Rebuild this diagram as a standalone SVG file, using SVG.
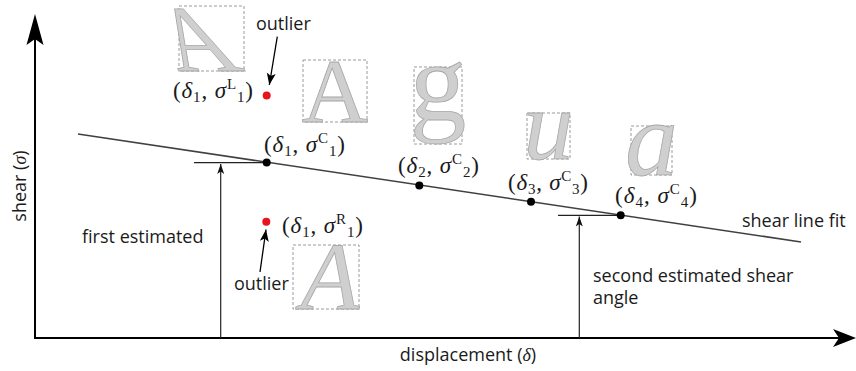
<svg xmlns="http://www.w3.org/2000/svg" width="856" height="371" viewBox="0 0 856 371">
<style>
.sans{font-family:"Open Sans","Liberation Sans",sans-serif;font-size:18px;fill:#1a1a1a}
.math{font-family:"Liberation Serif","DejaVu Serif",serif;font-size:23px;fill:#1a1a1a}
.i{font-style:italic}
.s{font-size:15px}
.glyph{font-family:"Liberation Serif","DejaVu Serif",serif;fill:#cfcfcf;stroke:#a8a8a8;stroke-width:0.8}
.box{fill:none;stroke:#9a9a9a;stroke-width:1;stroke-dasharray:3 2}
.axis{stroke:#000;stroke-width:2;fill:none}
.thin{stroke:#222;stroke-width:1.2;fill:none}
.fit{stroke:#404040;stroke-width:1.6;fill:none}
</style>
<defs>
<marker id="small" viewBox="0 0 10 10" refX="10" refY="5" markerWidth="10" markerHeight="10" markerUnits="userSpaceOnUse" orient="auto">
<path d="M10,5 L0,1.5 L2.5,5 L0,8.5 Z" fill="#111"/>
</marker>
<marker id="out" viewBox="0 0 12 10" refX="12" refY="5" markerWidth="12" markerHeight="10" markerUnits="userSpaceOnUse" orient="auto">
<path d="M12,5 L0,0.5 L3,5 L0,9.5 Z" fill="#000"/>
</marker>
</defs>

<g id="axes">
<line class="axis" x1="35" y1="338" x2="35" y2="38"/>
<path d="M35,14 L43.5,45 L35,39 L26.5,45 Z" fill="#000"/>
<line class="axis" x1="34" y1="338" x2="840" y2="338"/>
<path d="M856,338 L833,329 L839,338 L833,347 Z" fill="#000"/>
<text class="sans" transform="translate(26,186) rotate(-90)" text-anchor="middle">shear (<tspan font-family="Liberation Serif,serif" font-style="italic">σ</tspan>)</text>
<text class="sans" x="468" y="361" text-anchor="middle">displacement (<tspan font-family="Liberation Serif,serif" font-style="italic">δ</tspan>)</text>
</g>

<g id="connectors">
<line class="fit" x1="78" y1="134" x2="801" y2="242"/>
<line class="thin" x1="194" y1="162.7" x2="267" y2="162.7"/>
<line class="thin" x1="220.7" y1="338" x2="220.7" y2="164" marker-end="url(#small)"/>
<line class="thin" x1="558" y1="215.3" x2="621" y2="215.3"/>
<line class="thin" x1="579.3" y1="338" x2="579.3" y2="216.5" marker-end="url(#small)"/>
<line stroke="#000" stroke-width="1.3" x1="277.3" y1="36.7" x2="269.3" y2="85" marker-end="url(#out)"/>
<line stroke="#000" stroke-width="1.3" x1="260" y1="272" x2="266" y2="229.5" marker-end="url(#out)"/>
</g>

<g id="glyph-A-left">
<rect class="box" x="179" y="6" width="65" height="65"/>
<text class="glyph" font-size="94" text-anchor="middle" transform="translate(212,71) skewX(27.5)">A</text>
</g>
<g id="glyph-A">
<rect class="box" x="303" y="60" width="64" height="62"/>
<text class="glyph" font-size="92" text-anchor="middle" x="335" y="121.5">A</text>
</g>
<g id="glyph-g">
<rect class="box" x="414" y="67" width="48" height="77"/>
<text class="glyph" font-size="113" text-anchor="middle" x="438" y="119.5">g</text>
</g>
<g id="glyph-u">
<rect class="box" x="527" y="113" width="43" height="46"/>
<text class="glyph i" font-size="100" text-anchor="middle" x="548.5" y="158.5">u</text>
</g>
<g id="glyph-a">
<rect class="box" x="631" y="126" width="41" height="49"/>
<text class="glyph i" font-size="105" text-anchor="middle" x="651.5" y="174.5">a</text>
</g>
<g id="glyph-A-right">
<rect class="box" x="293" y="245" width="66" height="64"/>
<text class="glyph i" font-size="96" text-anchor="middle" x="330" y="308.5">A</text>
</g>

<g id="point-L1">
<circle cx="266.7" cy="95.5" r="4" fill="#e8141c"/>
<text class="math" x="173" y="98" textLength="80" lengthAdjust="spacing">(<tspan class="i">δ</tspan><tspan class="s" dy="3.5">1</tspan><tspan dy="-3.5">, </tspan><tspan class="i">σ</tspan><tspan class="s" font-size="13" dy="-9">L</tspan><tspan class="s" dy="12.5">1</tspan><tspan dy="-3.5">)</tspan></text>
</g>
<g id="point-C1">
<circle cx="266.7" cy="162.5" r="4" fill="#000"/>
<text class="math" x="264" y="152" textLength="81" lengthAdjust="spacing">(<tspan class="i">δ</tspan><tspan class="s" dy="3.5">1</tspan><tspan dy="-3.5">, </tspan><tspan class="i">σ</tspan><tspan class="s" font-size="13" dy="-9">C</tspan><tspan class="s" dy="12.5">1</tspan><tspan dy="-3.5">)</tspan></text>
</g>
<g id="point-C2">
<circle cx="419.3" cy="185.5" r="4" fill="#000"/>
<text class="math" x="398" y="173" textLength="81" lengthAdjust="spacing">(<tspan class="i">δ</tspan><tspan class="s" dy="3.5">2</tspan><tspan dy="-3.5">, </tspan><tspan class="i">σ</tspan><tspan class="s" font-size="13" dy="-9">C</tspan><tspan class="s" dy="12.5">2</tspan><tspan dy="-3.5">)</tspan></text>
</g>
<g id="point-C3">
<circle cx="531" cy="201.7" r="4" fill="#000"/>
<text class="math" x="508" y="190" textLength="80" lengthAdjust="spacing">(<tspan class="i">δ</tspan><tspan class="s" dy="3.5">3</tspan><tspan dy="-3.5">, </tspan><tspan class="i">σ</tspan><tspan class="s" font-size="13" dy="-9">C</tspan><tspan class="s" dy="12.5">3</tspan><tspan dy="-3.5">)</tspan></text>
</g>
<g id="point-C4">
<circle cx="620.7" cy="215.3" r="4" fill="#000"/>
<text class="math" x="615" y="203" textLength="82" lengthAdjust="spacing">(<tspan class="i">δ</tspan><tspan class="s" dy="3.5">4</tspan><tspan dy="-3.5">, </tspan><tspan class="i">σ</tspan><tspan class="s" font-size="13" dy="-9">C</tspan><tspan class="s" dy="12.5">4</tspan><tspan dy="-3.5">)</tspan></text>
</g>
<g id="point-R1">
<circle cx="266.3" cy="221.7" r="4" fill="#e8141c"/>
<text class="math" x="282" y="233.3" textLength="81" lengthAdjust="spacing">(<tspan class="i">δ</tspan><tspan class="s" dy="3.5">1</tspan><tspan dy="-3.5">, </tspan><tspan class="i">σ</tspan><tspan class="s" font-size="13" dy="-9">R</tspan><tspan class="s" dy="12.5">1</tspan><tspan dy="-3.5">)</tspan></text>
</g>

<g id="labels">
<text class="sans" x="256" y="30" font-size="15">outlier</text>
<text class="sans" x="234" y="290" font-size="15">outlier</text>
<text class="sans" x="82" y="243">first estimated</text>
<text class="sans" x="742" y="226.5">shear line fit</text>
<text class="sans" x="593" y="281.5">second estimated shear</text>
<text class="sans" x="593" y="303.5">angle</text>
</g>
</svg>
